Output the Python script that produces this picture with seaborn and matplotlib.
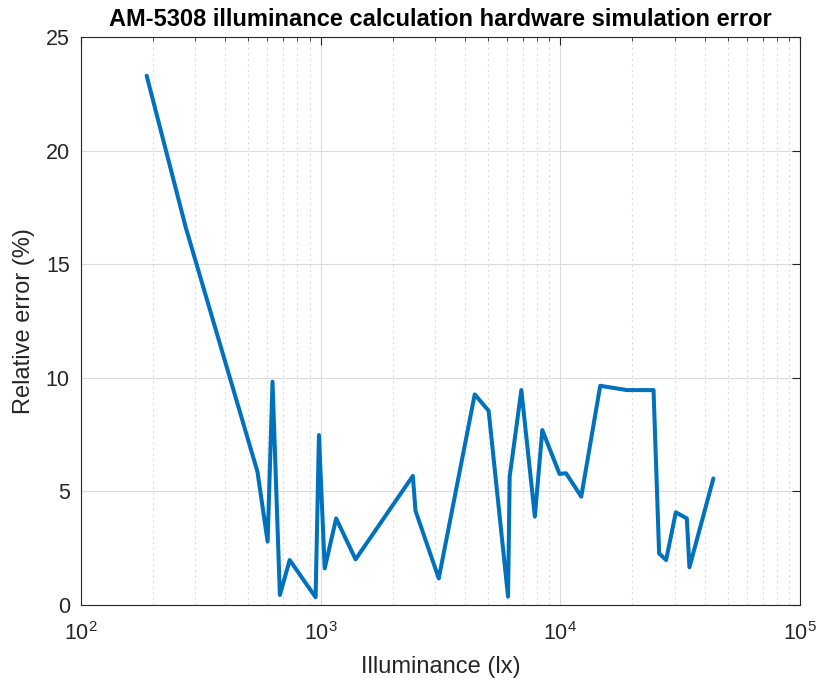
import matplotlib
matplotlib.use("Agg")
import matplotlib.pyplot as plt
import seaborn as sns
import pandas as pd
from matplotlib.ticker import LogLocator, FixedLocator

illuminance = [188, 274, 545, 601, 630, 676, 743, 953, 984, 1040, 1161, 1399,
               2426, 2488, 3112, 4396, 5024, 6054, 6150, 6880, 7833, 8414,
               9929, 10570, 12234, 14678, 18970, 24500, 25850, 27650, 30350,
               33730, 34590, 43540]
rel_error = [23.3, 16.6, 5.87, 2.79, 9.83, 0.44, 1.98, 0.34, 7.48, 1.61, 3.81,
             2.01, 5.68, 4.15, 1.17, 9.27, 8.55, 0.37, 5.65, 9.46, 3.89, 7.70,
             5.77, 5.80, 4.77, 9.65, 9.46, 9.46, 2.27, 1.98, 4.08, 3.81, 1.66,
             5.57]
y_ticks = [0, 5, 10, 15, 20, 25]
x_ticks = [1e2, 1e3, 1e4, 1e5]

df = pd.DataFrame({"Illuminance": illuminance, "Error": rel_error})

sns.set_style("white")
plt.rcParams["font.family"] = ["Liberation Sans", "DejaVu Sans"]
plt.rcParams["mathtext.fontset"] = "custom"
plt.rcParams["mathtext.rm"] = "Liberation Sans"

fig = plt.figure(figsize=(8.17, 6.81), dpi=100)
ax = fig.add_axes([0.0991, 0.1116, 0.880, 0.834])

sns.lineplot(data=df, x="Illuminance", y="Error", ax=ax, sort=False,
             estimator=None, color="#0072BD", linewidth=2.9)

ax.set_xscale("log")
ax.set_xlim(1e2, 1e5)
ax.set_ylim(0, 25)
ax.set_yticks(y_ticks)
ax.xaxis.set_major_locator(FixedLocator(x_ticks))
ax.xaxis.set_minor_locator(LogLocator(base=10, subs=range(2, 10)))

ax.grid(True, which="major", color="#dcdcdc", linewidth=0.8, linestyle="-")
ax.grid(True, which="minor", axis="x", color="#dcdcdc", linewidth=0.8,
        linestyle=(0, (2, 3)))
ax.set_axisbelow(True)

tc = "#262626"
ax.tick_params(which="both", direction="in", top=True, right=True,
               colors=tc, labelsize=15.5)
ax.tick_params(axis="y", pad=8)
ax.tick_params(axis="x", pad=12)
ax.tick_params(which="major", length=6, width=0.8)
ax.tick_params(which="minor", length=3, width=0.6)
for s in ax.spines.values():
    s.set_color(tc)
    s.set_linewidth(0.8)

ax.set_xlabel("Illuminance (lx)", fontsize=17, color=tc, labelpad=8)
ax.set_ylabel("Relative error (%)", fontsize=17, color=tc, labelpad=8)
ax.set_title("AM-5308 illuminance calculation hardware simulation error",
             fontsize=17, fontweight="bold", color="black", pad=8)

fig.savefig("out.png", dpi=100, facecolor="white")
